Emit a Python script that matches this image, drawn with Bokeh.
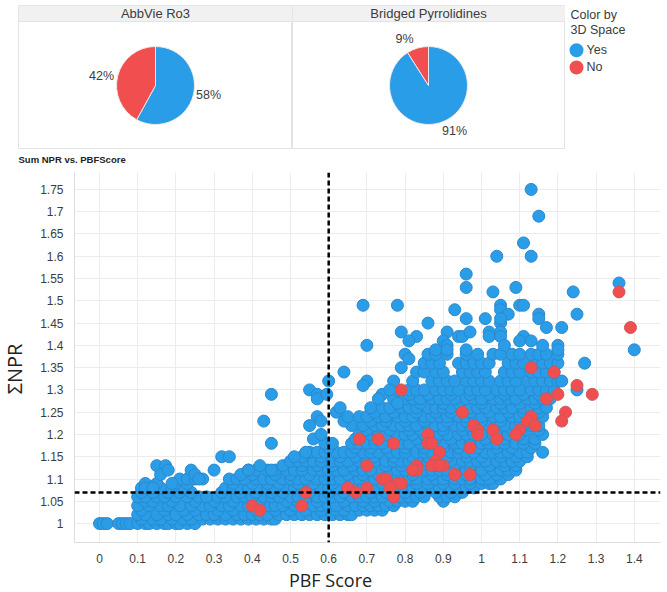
from bokeh.plotting import figure
from bokeh.embed import file_html
from bokeh.resources import INLINE
from bokeh.layouts import column, row
from bokeh.models import Range1d, Span, FixedTicker
from bokeh.core.properties import value
import math

BLUE = "#2A9DE8"
RED = "#F14E4F"
TXT = "#3c3c3c"
SANS = "Liberation Sans"

pie_titles = ["AbbVie Ro3", "Bridged Pyrrolidines"]
pie_categories = ["Yes", "No"]
pie_abbvie = [58, 42]
pie_bridged = [91, 9]
pie_labels_abbvie = ["58%", "42%"]
pie_labels_bridged = ["91%", "9%"]
legend_title = ["Color by", "3D Space"]
scatter_title = ["Sum NPR vs. PBFScore"]
x_title = ["PBF Score"]
y_title = ["\u03a3NPR"]

x_tick_values = [0, 0.1, 0.2, 0.3, 0.4, 0.5, 0.6, 0.7, 0.8, 0.9, 1, 1.1, 1.2, 1.3, 1.4]
x_tick_labels = ["0", "0.1", "0.2", "0.3", "0.4", "0.5", "0.6", "0.7", "0.8", "0.9", "1", "1.1", "1.2", "1.3", "1.4"]
y_tick_values = [1, 1.05, 1.1, 1.15, 1.2, 1.25, 1.3, 1.35, 1.4, 1.45, 1.5, 1.55, 1.6, 1.65, 1.7, 1.75]
y_tick_labels = ["1", "1.05", "1.1", "1.15", "1.2", "1.25", "1.3", "1.35", "1.4", "1.45", "1.5", "1.55", "1.6", "1.65", "1.7", "1.75"]

threshold_pbf = 0.6
threshold_npr = 1.07

row_100 = [0, .01, .02, .05, .06, .07, .08, .10, .12, .13, .15, .17, .18, .20, .21, .23, .25]
row_101 = [.11, .14, .16, .19, .22, .24, .27, .29, .31, .33, .35, .37, .39, .41, .43, .45, .46]
row_102 = [.10, .12, .15, .18, .20, .23, .26, .28, .30, .33, .36, .38, .40, .42, .44, .47, .49, .51, .53, .55, .57, .59, .61, .63, .65, .66]
row_103 = [.11, .17, .22, .25, .31, .35, .41, .46, .50, .54, .58, .62, .64, .68, .70, .72, .74]
row_104 = [.10, .13, .16, .18, .21, .24, .27, .29, .32, .34, .37, .39, .41, .44, .46, .48, .51, .53, .56, .58, .60, .62, .65, .67, .69, .71, .73, .75, .77]
row_105 = [.12, .14, .19, .25, .30, .35, .42, .49, .52, .57, .64, .69, .72, .76, .78, .80, .82, .90]
row_106 = [.10, .12, .15, .17, .20, .23, .26, .28, .31, .33, .36, .38, .40, .43, .45, .47, .50, .52, .54, .57, .59, .61, .63, .66, .68, .70, .72, .74, .77, .79, .81, .83, .85, .89, .91, .93]
row_107 = [.11, .14, .18, .21, .24, .32, .37, .41, .45, .48, .55, .60, .64, .71, .75, .80, .84, .88, .92, .95]
row_108 = [.11, .13, .16, .19, .22, .33, .35, .37, .39, .42, .44, .46, .49, .51, .53, .55, .58, .60, .62, .65, .67, .69, .71, .73, .76, .78, .80, .82, .84, .87, .89, .92, .94, .96, .98]
row_109 = [.12, .15, .20, .23, .35, .40, .44, .47, .52, .56, .61, .66, .70, .74, .79, .83, .86, .90, .93, .97, 1.00, 1.02, 1.03]
row_110 = [.21, .23, .25, .27, .34, .36, .38, .41, .43, .45, .48, .50, .52, .54, .57, .59, .61, .63, .66, .68, .70, .72, .75, .77, .79, .81, .83, .86, .88, .90, .93, .95, .97, 1.00, 1.02, 1.05]
row_111 = [.37, .40, .46, .50, .55, .60, .65, .69, .73, .78, .82, .87, .91, .96, 1.01, 1.04, 1.07]
row_112 = [.39, .41, .44, .46, .49, .51, .53, .56, .58, .60, .62, .64, .67, .69, .71, .74, .76, .78, .80, .82, .85, .87, .89, .91, .94, .96, .98, 1.00, 1.03, 1.05, 1.07, 1.09]
row_113 = [.48, .53, .57, .61, .66, .70, .75, .79, .84, .88, .93, .97, 1.02, 1.06, 1.09]
row_114 = [.50, .52, .54, .56, .58, .61, .63, .65, .68, .70, .72, .75, .77, .79, .81, .84, .86, .88, .90, .92, .95, .97, .99, 1.01, 1.04, 1.06, 1.08, 1.10]
row_115 = [.53, .58, .63, .67, .72, .77, .82, .86, .91, .96, 1.00, 1.05, 1.09, 1.12]
row_116 = [.55, .57, .59, .62, .64, .66, .69, .71, .73, .76, .78, .80, .83, .85, .87, .89, .92, .94, .96, .98, 1.01, 1.03, 1.05, 1.07, 1.10, 1.12, 1.16]
row_117 = [.60, .67, .71, .75, .80, .85, .90, .94, .99, 1.04, 1.08, 1.13]
row_118 = [.59, .61, .66, .68, .70, .72, .74, .77, .79, .81, .84, .86, .88, .90, .93, .95, .97, 1.00, 1.02, 1.04, 1.06, 1.09, 1.11, 1.14]
row_119 = [.67, .72, .77, .83, .88, .92, .97, 1.01, 1.06, 1.11, 1.14]
row_120 = [.68, .71, .73, .75, .78, .80, .82, .85, .87, .89, .91, .94, .96, .98, 1.00, 1.03, 1.05, 1.07, 1.10, 1.16]
row_121 = [.70, .76, .81, .84, .90, .95, .99, 1.04, 1.08, 1.12, 1.15]
row_122 = [.66, .69, .72, .74, .77, .79, .81, .83, .86, .88, .90, .93, .95, .97, .99, 1.02, 1.04, 1.06, 1.09, 1.11, 1.13, 1.15]
row_123 = [.64, .71, .75, .80, .85, .91, .96, 1.00, 1.05, 1.10, 1.14]
row_124 = [.65, .68, .70, .73, .75, .78, .80, .82, .85, .87, .89, .91, .94, .96, .98, 1.00, 1.03, 1.05, 1.08, 1.10, 1.12, 1.14, 1.16]
row_125 = [.72, .77, .83, .88, .92, .97, 1.02, 1.07, 1.11, 1.15]
row_126 = [.71, .74, .76, .79, .81, .83, .86, .88, .90, .92, .95, .97, .99, 1.01, 1.04, 1.06, 1.08, 1.11, 1.13, 1.15, 1.17]
row_127 = [.78, .84, .90, .94, 1.00, 1.05, 1.10, 1.14]
row_128 = [.77, .80, .82, .84, .87, .89, .91, .93, .96, .98, 1.00, 1.03, 1.05, 1.07, 1.09, 1.12, 1.14, 1.16, 1.18]
row_129 = [.81, .86, .92, .97, 1.02, 1.06, 1.11, 1.15]
row_130 = [.78, .81, .83, .85, .88, .90, .92, .94, .97, .99, 1.01, 1.04, 1.06, 1.08, 1.10, 1.13, 1.15, 1.17, 1.19, 1.25]
row_132 = [.82, .87, .89, .91, .93, .96, .98, 1.00, 1.02, 1.05, 1.07, 1.09, 1.12, 1.14, 1.16, 1.18, 1.20, 1.21]
row_134 = [.83, .85, .88, .90, .95, .97, .99, 1.01, 1.06, 1.08, 1.10, 1.13, 1.15, 1.17, 1.19]
row_136 = [.85, .87, .89, .94, .96, .98, 1.00, 1.02, 1.07, 1.09, 1.11, 1.14, 1.16, 1.18, 1.20, 1.27]
row_138 = [.86, .88, .91, .96, .99, 1.03, 1.05, 1.08, 1.10, 1.13, 1.15, 1.17, 1.20]

# Isolated blue points
blue_extra_x = [1.13, 1.15, 1.11, 1.04, 1.13, .96, .96, 1.36, 1.40, 1.09, 1.03, 1.24, .69, .78, .93, 1.05, 1.05, 1.10, 1.11,
                1.25, 1.15, 1.15, 1.07, 1.01, .96, .86, 1.17, 1.21, 1.05, 1.05, .79, .91, .83, .81, .70, .94, .95, .97,
                1.02, 1.02, 1.05, 1.05, 1.06, .90, 1.11, 1.10, 1.13, 1.20, 1.20, 1.16, .88, .91, .91, .96, .80, .81, .79,
                .64, .60, .70, .69, .77, .55, .57, .57, .595, .45, .43, .45, .55, .57, .58, .74, .73, .76, .78,
                .15, .173, .16, .18, .24, .25, .30, .32, .34, .42, .39, .45, .51, .54, .56, .58, .62, .63, .12, .14, .19, .26]
blue_extra_y = [1.75, 1.69, 1.63, 1.60, 1.60, 1.56, 1.53, 1.54, 1.39, 1.53, 1.52, 1.52, 1.49, 1.49, 1.48, 1.49, 1.48, 1.49, 1.49,
                1.47, 1.47, 1.46, 1.47, 1.46, 1.46, 1.45, 1.44, 1.44, 1.45, 1.46, 1.43, 1.43, 1.42, 1.41, 1.40, 1.42, 1.42, 1.43,
                1.43, 1.42, 1.43, 1.42, 1.40, 1.41, 1.42, 1.41, 1.41, 1.40, 1.39, 1.40, 1.39, 1.40, 1.39, 1.39, 1.38, 1.37, 1.35,
                1.34, 1.32, 1.32, 1.31, 1.32, 1.30, 1.29, 1.28, 1.29, 1.29, 1.23, 1.18, 1.22, 1.24, 1.23, 1.29, 1.28, 1.30, 1.27,
                1.13, 1.13, 1.11, 1.12, 1.12, 1.11, 1.12, 1.15, 1.15, 1.13, 1.12, 1.12, 1.15, 1.16, 1.19, 1.20, 1.25, 1.26, 1.08, 1.08, 1.09, 1.10]

red_x = [1.36, 1.39, 1.13, 1.19, 1.25, 1.29, 1.20, 1.17, 1.22, 1.21, .79, .95, 1.13, 1.12, 1.14, 1.10, 1.09, .98, .99, .99,
         1.03, 1.04, .86, .86, .87, .89, .97, .68, .73, .77, .88, .87, .90, .89, .83, .83, .82, .93, .97, .70, .74, .75,
         .78, .79, .76, .77, .70, .65, .67, .40, .42, .53, .54]
red_y = [1.52, 1.44, 1.35, 1.34, 1.31, 1.29, 1.29, 1.28, 1.25, 1.23, 1.30, 1.25, 1.24, 1.23, 1.22, 1.21, 1.20, 1.22, 1.21, 1.20,
         1.21, 1.19, 1.20, 1.18, 1.18, 1.16, 1.17, 1.19, 1.19, 1.18, 1.14, 1.13, 1.13, 1.13, 1.13, 1.12, 1.12, 1.11, 1.11, 1.13, 1.10, 1.10,
         1.09, 1.09, 1.08, 1.06, 1.08, 1.08, 1.07, 1.04, 1.03, 1.04, 1.07]

blue_rows = [(1.00, row_100), (1.01, row_101), (1.02, row_102), (1.03, row_103), (1.04, row_104), (1.05, row_105),
             (1.06, row_106), (1.07, row_107), (1.08, row_108), (1.09, row_109), (1.10, row_110), (1.11, row_111),
             (1.12, row_112), (1.13, row_113), (1.14, row_114), (1.15, row_115), (1.16, row_116), (1.17, row_117),
             (1.18, row_118), (1.19, row_119), (1.20, row_120), (1.21, row_121), (1.22, row_122), (1.23, row_123),
             (1.24, row_124), (1.25, row_125), (1.26, row_126), (1.27, row_127), (1.28, row_128), (1.29, row_129),
             (1.30, row_130), (1.32, row_132), (1.34, row_134), (1.36, row_136), (1.38, row_138)]
blue_x = [x for _, r in blue_rows for x in r] + blue_extra_x
blue_y = [lv for lv, r in blue_rows for _ in r] + blue_extra_y


def blank(width, height, x_end, y_end, **kw):
    f = figure(width=width, height=height, output_backend="svg", toolbar_location=None, x_range=Range1d(0, x_end),
               y_range=Range1d(0, y_end), x_axis_type=None, y_axis_type=None, min_border=0, tools="", **kw)
    f.grid.visible = False
    f.outline_line_color = None
    return f


def pie_panel(title, values, labels, label_xy, width, left_pad, x0, x1):
    p = figure(width=width, height=150, output_backend="svg", toolbar_location=None,
               x_range=Range1d(x0, x1), y_range=Range1d(-63, 80),
               x_axis_type=None, y_axis_type=None, min_border_left=left_pad, min_border_right=0,
               min_border_top=5, min_border_bottom=2, tools="")
    p.grid.visible = False
    p.outline_line_color = "#e3e3e3"
    p.quad(left=x0, right=x1, top=80, bottom=64, fill_color="#f1f1f1", line_color="#e3e3e3")
    p.text(x=[0], y=[72], text=[title], text_align="center", text_baseline="middle",
           text_font=value(SANS), text_font_size="13px", text_color=TXT)
    total = sum(values)
    start = math.pi / 2
    for v, c in zip(values, [BLUE, RED]):
        end = start - 2 * math.pi * v / total
        p.wedge(x=[0], y=[0], radius=39, radius_units="screen", start_angle=start, end_angle=end,
                direction="clock", fill_color=c, line_color="#f0e8e8", line_width=1)
        start = end
    p.text(x=[q[0] for q in label_xy], y=[q[1] for q in label_xy], text=labels, text_align="center",
           text_baseline="middle", text_font=value(SANS), text_font_size="12.5px", text_color=TXT)
    return p


pie1 = pie_panel(pie_titles[0], pie_abbvie, pie_labels_abbvie, [(53, -9), (-54, 10)], 292, 18, -137, 137)
pie2 = pie_panel(pie_titles[1], pie_bridged, pie_labels_bridged, [(26, -45), (-24, 47)], 273, 0, -136, 137)

leg = blank(102, 150, 102, 150)
leg.text(x=[5, 5], y=[140, 124], text=legend_title, text_baseline="middle", text_font=value(SANS),
         text_font_size="12.5px", text_color=TXT)
leg.scatter(x=[11, 11], y=[103, 85], size=14, fill_color=[BLUE, RED], line_color=None)
leg.text(x=[21, 21], y=[103, 85], text=pie_categories, text_baseline="middle", text_font=value(SANS),
         text_font_size="12.5px", text_color=TXT)

strip = blank(667, 22, 667, 22)
strip.text(x=[18], y=[13], text=scatter_title, text_baseline="middle", text_font=value(SANS),
           text_font_size="9.5px", text_font_style="bold", text_color="#222222")

ylab = figure(width=28, height=393, output_backend="svg", toolbar_location=None, x_range=Range1d(0, 28),
              y_range=Range1d(0, 371), x_axis_type=None, y_axis_type=None, min_border_left=0, min_border_right=0,
              min_border_top=0, min_border_bottom=22, tools="")
ylab.grid.visible = False
ylab.outline_line_color = None
ylab.text(x=[14], y=[174], text=y_title, angle=math.pi / 2, text_align="center", text_baseline="middle",
          text_font=value("Open Sans"), text_font_size="20px", text_color="#222222")

p = figure(width=639, height=393, output_backend="svg", toolbar_location=None,
           x_range=Range1d(-0.0654, 1.4686), y_range=Range1d(0.9575, 1.788),
           min_border_left=46, min_border_right=7, min_border_top=0, min_border_bottom=22, tools="")
p.outline_line_color = None
p.xgrid.grid_line_color = "#ececec"
p.ygrid.grid_line_color = "#ececec"
p.xaxis.ticker = FixedTicker(ticks=x_tick_values)
p.yaxis.ticker = FixedTicker(ticks=y_tick_values)
p.xaxis.major_label_overrides = dict(zip(x_tick_values, x_tick_labels))
p.yaxis.major_label_overrides = dict(zip(y_tick_values, y_tick_labels))
for ax in (p.xaxis[0], p.yaxis[0]):
    ax.axis_line_color = "#dddddd"
    ax.major_tick_line_color = None
    ax.minor_tick_line_color = None
    ax.major_label_text_font = SANS
    ax.major_label_text_font_size = "12px"
    ax.major_label_text_color = TXT
    ax.major_label_standoff = 5

p.scatter(blue_x, blue_y, size=12, fill_color=BLUE, line_color="#2B88CC", line_width=1)
p.scatter(red_x, red_y, size=12, fill_color=RED, line_color="#C9585C", line_width=1)
p.add_layout(Span(location=threshold_pbf, dimension="height", line_color="black", line_width=2.5, line_dash="5 3"))
p.add_layout(Span(location=threshold_npr, dimension="width", line_color="black", line_width=2.5, line_dash="5 3"))

xlab = blank(667, 27, 667, 27)
xlab.text(x=[330], y=[12.5], text=x_title, text_align="center", text_baseline="middle",
          text_font=value("Open Sans"), text_font_size="18px", text_color="#222222")

page = column(row(pie1, pie2, leg, spacing=0), row(strip, spacing=0), row(ylab, p, spacing=0), row(xlab, spacing=0), spacing=0)
open("out.html", "w").write(file_html(page, INLINE))
